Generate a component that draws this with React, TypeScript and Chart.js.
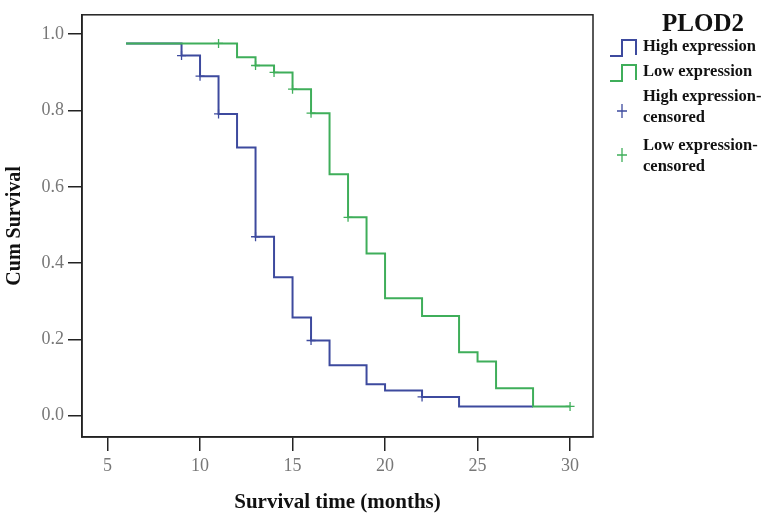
import React, { useEffect, useRef } from 'react';
import { Chart, registerables } from 'chart.js';

Chart.register(...registerables);

// High expression step curve (event times in months, cumulative survival)
const highTimes = [6, 9, 10, 11, 12, 13, 14, 15, 16, 17, 19, 20, 22, 24, 28];
const highSurv = [0.976, 0.944, 0.89, 0.791, 0.703, 0.469, 0.363, 0.257, 0.197, 0.132, 0.082, 0.066, 0.049, 0.024, 0.024];
// Low expression step curve
const lowTimes = [6, 12, 13, 14, 15, 16, 17, 18, 19, 20, 22, 24, 25, 26, 28, 30];
const lowSurv = [0.976, 0.94, 0.918, 0.9, 0.856, 0.793, 0.633, 0.52, 0.425, 0.308, 0.261, 0.166, 0.142, 0.072, 0.024, 0.024];
// Censored marks
const highCensTimes = [9, 10, 11, 13, 16, 22];
const highCensSurv = [0.944, 0.89, 0.791, 0.469, 0.197, 0.049];
const lowCensTimes = [11, 13, 14, 15, 16, 18, 30];
const lowCensSurv = [0.976, 0.918, 0.9, 0.856, 0.793, 0.52, 0.024];

const xTicks = [5, 10, 15, 20, 25, 30];
const yTicks = [0, 0.2, 0.4, 0.6, 0.8, 1.0];

const legendTitle = 'PLOD2';
const legendLabels: string[][] = [
  ['High expression'],
  ['Low expression'],
  ['High expression-', 'censored'],
  ['Low expression-', 'censored'],
];

const BLUE = '#3d4a9e';
const GREEN = '#3fae5a';
const AXIS = '#222222';
const FONT = '"Liberation Serif", "Times New Roman", serif';

const toPts = (xs: number[], ys: number[]) => xs.map((x, i) => ({ x, y: ys[i] }));

export default function App() {
  const ref = useRef<HTMLCanvasElement>(null);

  useEffect(() => {
    if (!ref.current) return;

    const framePlugin = {
      id: 'frame',
      afterDraw(chart: any) {
        const { ctx, chartArea } = chart;
        const { left, top, right, bottom } = chartArea;
        ctx.save();
        ctx.strokeStyle = AXIS;
        ctx.lineWidth = 1.5;
        ctx.strokeRect(left, top, right - left, bottom - top);
        ctx.restore();
      },
    };

    const legendPlugin = {
      id: 'kmLegend',
      afterDraw(chart: any) {
        const ctx = chart.ctx as CanvasRenderingContext2D;
        ctx.save();
        ctx.fillStyle = '#111';
        ctx.textBaseline = 'middle';
        ctx.textAlign = 'center';
        ctx.font = `bold 25px ${FONT}`;
        ctx.fillText(legendTitle, 703, 25);

        ctx.textAlign = 'left';
        ctx.font = `bold 16.5px ${FONT}`;
        const tx = 643;
        const rows = [[47], [72], [97, 118], [146, 167]];
        legendLabels.forEach((lines, i) => {
          lines.forEach((t, j) => ctx.fillText(t, tx, rows[i][j]));
        });

        // step icons
        const drawStep = (color: string, low: number, high: number) => {
          ctx.strokeStyle = color;
          ctx.lineWidth = 2;
          ctx.beginPath();
          ctx.moveTo(610, low);
          ctx.lineTo(622, low);
          ctx.lineTo(622, high);
          ctx.lineTo(636, high);
          ctx.lineTo(636, low - 1);
          ctx.stroke();
        };
        drawStep(BLUE, 56, 40);
        drawStep(GREEN, 81, 65);

        const drawCross = (color: string, cx: number, cy: number) => {
          ctx.strokeStyle = color;
          ctx.lineWidth = 1.3;
          ctx.beginPath();
          ctx.moveTo(cx - 5, cy);
          ctx.lineTo(cx + 5, cy);
          ctx.moveTo(cx, cy - 7);
          ctx.lineTo(cx, cy + 7);
          ctx.stroke();
        };
        drawCross(BLUE, 622, 111);
        drawCross(GREEN, 622, 155);
        ctx.restore();
      },
    };

    const chart = new Chart(ref.current, {
      type: 'scatter',
      data: {
        datasets: [
          {
            label: 'Low expression',
            data: toPts(lowTimes, lowSurv),
            showLine: true,
            stepped: true,
            borderColor: GREEN,
            borderWidth: 2,
            pointRadius: 0,
            fill: false,
          } as any,
          {
            label: 'High expression',
            data: toPts(highTimes, highSurv),
            showLine: true,
            stepped: true,
            borderColor: BLUE,
            borderWidth: 2,
            pointRadius: 0,
            fill: false,
          } as any,
          {
            label: 'Low expression-censored',
            data: toPts(lowCensTimes, lowCensSurv),
            showLine: false,
            pointStyle: 'cross',
            pointRadius: 4.5,
            borderColor: GREEN,
            borderWidth: 1.3,
          } as any,
          {
            label: 'High expression-censored',
            data: toPts(highCensTimes, highCensSurv),
            showLine: false,
            pointStyle: 'cross',
            pointRadius: 4.5,
            borderColor: BLUE,
            borderWidth: 1.3,
          } as any,
        ],
      },
      options: {
        responsive: false,
        animation: false,
        devicePixelRatio: 1,
        layout: { padding: { left: 0, top: 3, right: 175, bottom: 0 } },
        plugins: {
          legend: { display: false },
          tooltip: { enabled: false },
          title: { display: false },
        },
        scales: {
          x: {
            type: 'linear',
            position: 'bottom',
            min: 3.62,
            max: 31.24,
            afterBuildTicks: (s: any) => {
              s.ticks = xTicks.map((v) => ({ value: v }));
            },
            afterFit: (s: any) => {
              s.height = 89;
            },
            grid: { drawOnChartArea: false, drawTicks: true, tickLength: 14, color: AXIS, lineWidth: 1.5 },
            border: { display: true, color: AXIS, width: 1.5 },
            ticks: {
              color: '#777',
              font: { family: FONT, size: 18 },
              padding: 4,
              autoSkip: false,
              maxRotation: 0,
            },
            title: {
              display: true,
              text: 'Survival time (months)',
              color: '#111',
              font: { family: FONT, size: 21, weight: 'bold' },
              padding: { top: 0, bottom: 11 },
            },
          },
          y: {
            type: 'linear',
            min: -0.0561,
            max: 1.051,
            afterBuildTicks: (s: any) => {
              s.ticks = yTicks.map((v) => ({ value: v }));
            },
            afterFit: (s: any) => {
              s.width = 82;
            },
            grid: { drawOnChartArea: false, drawTicks: true, tickLength: 14, color: AXIS, lineWidth: 1.5 },
            border: { display: true, color: AXIS, width: 1.5 },
            ticks: {
              color: '#777',
              font: { family: FONT, size: 18 },
              padding: 4,
              callback: (v: any) => Number(v).toFixed(1),
            },
            title: {
              display: true,
              text: 'Cum Survival',
              color: '#111',
              font: { family: FONT, size: 20, weight: 'bold' },
              padding: { top: 3, bottom: 0 },
            },
          },
        },
      } as any,
      plugins: [framePlugin, legendPlugin],
    });

    return () => chart.destroy();
  }, []);

  return (
    <div style={{ position: 'absolute', left: 0, top: 0, width: 768, height: 526, background: '#fff' }}>
      <canvas ref={ref} width={768} height={526} style={{ display: 'block' }} />
    </div>
  );
}
